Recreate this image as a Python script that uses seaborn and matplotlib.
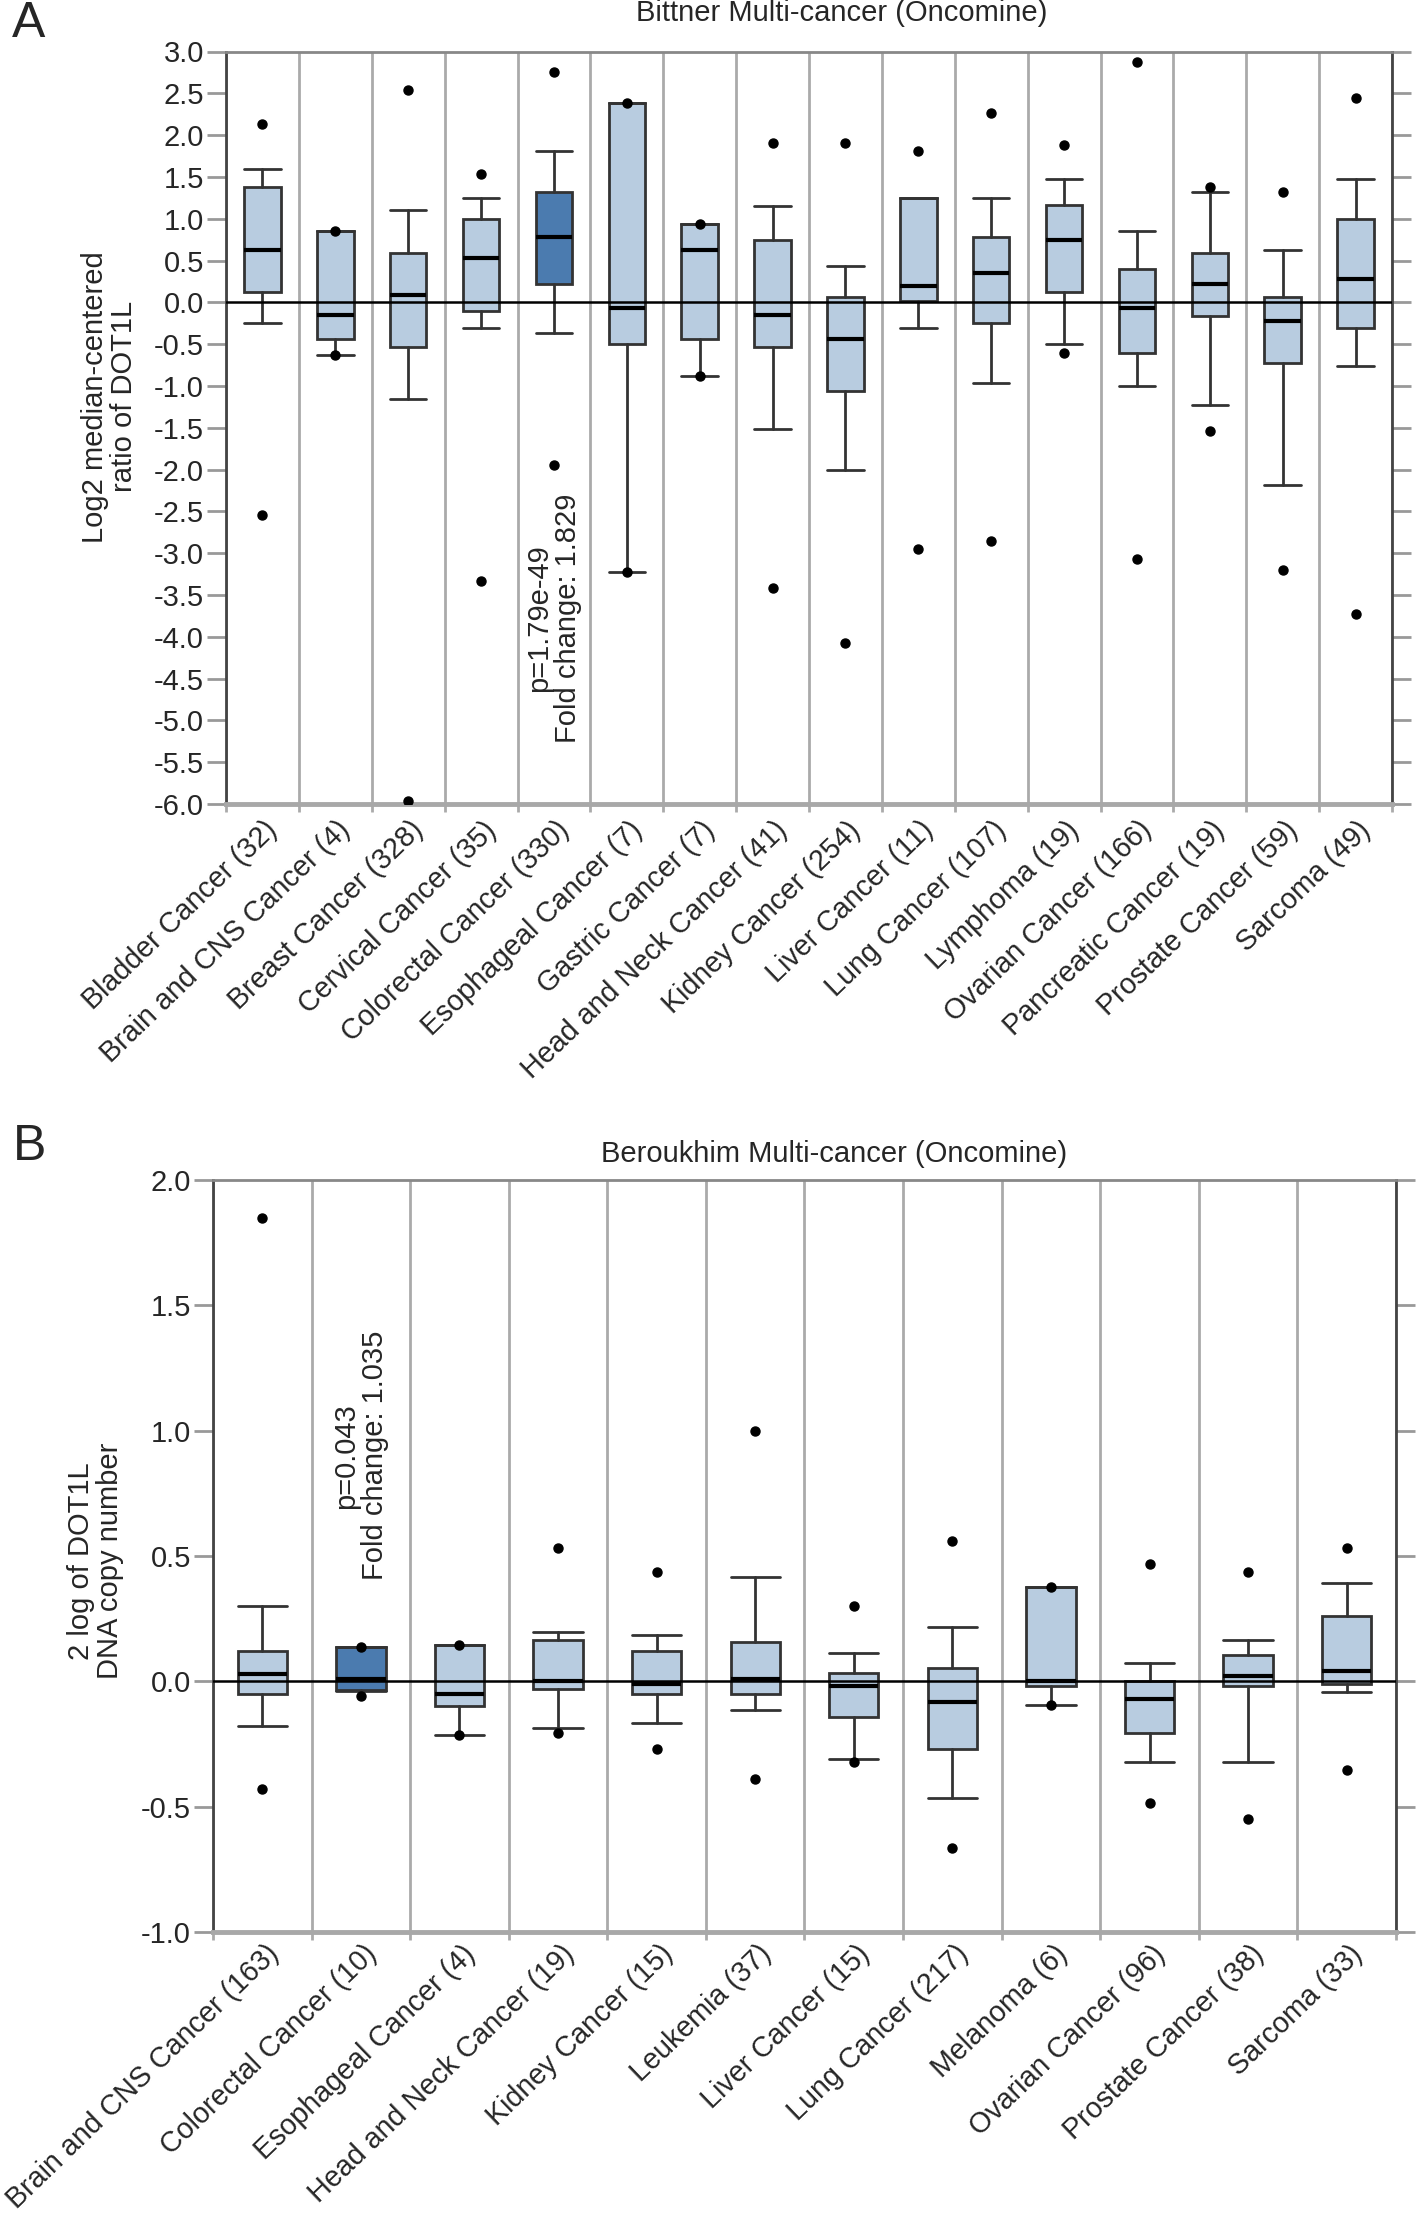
import numpy as np
import matplotlib
matplotlib.use("Agg")
import matplotlib.pyplot as plt
import matplotlib.transforms as mtransforms
import seaborn as sns

# ---------------- Data: panel A (Bittner) ----------------
A_labels = ["Bladder Cancer (32)", "Brain and CNS Cancer (4)", "Breast Cancer (328)",
            "Cervical Cancer (35)", "Colorectal Cancer (330)", "Esophageal Cancer (7)",
            "Gastric Cancer (7)", "Head and Neck Cancer (41)", "Kidney Cancer (254)",
            "Liver Cancer (11)", "Lung Cancer (107)", "Lymphoma (19)",
            "Ovarian Cancer (166)", "Pancreatic Cancer (19)", "Prostate Cancer (59)",
            "Sarcoma (49)"]
A_whishi = [1.59, 0.85, 1.10, 1.25, 1.81, 2.38, 0.94, 1.15, 0.44, 1.25, 1.25, 1.47, 0.85, 1.32, 0.63, 1.47]
A_q3     = [1.38, 0.85, 0.59, 1.00, 1.32, 2.38, 0.94, 0.75, 0.06, 1.25, 0.78, 1.16, 0.40, 0.59, 0.06, 1.00]
A_med    = [0.63, -0.15, 0.09, 0.53, 0.78, -0.07, 0.63, -0.15, -0.44, 0.19, 0.35, 0.75, -0.07, 0.22, -0.22, 0.28]
A_q1     = [0.12, -0.44, -0.53, -0.10, 0.22, -0.50, -0.44, -0.53, -1.06, 0.01, -0.25, 0.12, -0.60, -0.16, -0.72, -0.31]
A_whislo = [-0.25, -0.63, -1.16, -0.31, -0.37, -3.23, -0.88, -1.51, -2.00, -0.31, -0.97, -0.50, -1.00, -1.23, -2.19, -0.76]
A_max    = [2.13, 0.85, 2.54, 1.53, 2.75, 2.38, 0.94, 1.91, 1.91, 1.81, 2.26, 1.88, 2.88, 1.38, 1.32, 2.44]
A_min    = [-2.54, -0.63, -5.96, -3.33, -1.94, -3.23, -0.88, -3.42, -4.08, -2.95, -2.86, -0.60, -3.07, -1.54, -3.20, -3.73]
A_highlight = 4
A_title = "Bittner Multi-cancer (Oncomine)"
A_ylabel = "Log2 median-centered\nratio of DOT1L"
A_note = "p=1.79e-49\nFold change: 1.829"
A_yticks = [3.0 - 0.5 * i for i in range(19)]

# ---------------- Data: panel B (Beroukhim) ----------------
B_labels = ["Brain and CNS Cancer (163)", "Colorectal Cancer (10)", "Esophageal Cancer (4)",
            "Head and Neck Cancer (19)", "Kidney Cancer (15)", "Leukemia (37)",
            "Liver Cancer (15)", "Lung Cancer (217)", "Melanoma (6)",
            "Ovarian Cancer (96)", "Prostate Cancer (38)", "Sarcoma (33)"]
B_whishi = [0.30, 0.135, 0.146, 0.197, 0.186, 0.415, 0.114, 0.218, 0.375, 0.074, 0.165, 0.394]
B_q3     = [0.12, 0.135, 0.146, 0.165, 0.123, 0.157, 0.032, 0.053, 0.375, 0.0, 0.104, 0.26]
B_med    = [0.03, 0.01, -0.05, 0.0, -0.01, 0.01, -0.02, -0.083, 0.0, -0.072, 0.021, 0.042]
B_q1     = [-0.05, -0.035, -0.10, -0.03, -0.05, -0.05, -0.144, -0.27, -0.02, -0.207, -0.02, -0.01]
B_whislo = [-0.18, -0.04, -0.216, -0.186, -0.165, -0.114, -0.31, -0.466, -0.093, -0.32, -0.32, -0.042]
B_max    = [1.85, 0.135, 0.146, 0.53, 0.436, 0.997, 0.30, 0.56, 0.375, 0.468, 0.436, 0.53]
B_min    = [-0.43, -0.06, -0.216, -0.207, -0.27, -0.39, -0.32, -0.665, -0.093, -0.487, -0.55, -0.353]
B_highlight = 1
B_title = "Beroukhim Multi-cancer (Oncomine)"
B_ylabel = "2 log of DOT1L\nDNA copy number"
B_note = "p=0.043\nFold change: 1.035"
B_yticks = [2.0 - 0.5 * i for i in range(7)]

# ---------------- Style ----------------
sns.set_theme(style="white")
plt.rcParams['font.family'] = ['Liberation Sans', 'DejaVu Sans']
plt.rcParams['axes.unicode_minus'] = False

LIGHT = "#b8cce0"
DARK = "#4b7baf"
EDGE = "#333333"
GRID = "#aaaaaa"
FS = 21
XFS = 20.6

fig = plt.figure(figsize=(14.18, 22.19), dpi=100)
W, H = 1418, 2219


def make_axes(l, t, r, b):
    return fig.add_axes([l / W, 1 - b / H, (r - l) / W, (b - t) / H])


def panel(ax, labels, whishi, q3, med, q1, whislo, vmax, vmin, hi, yticks,
          title, title_xy, ylabel, ylabel_x, ylabel_y, note, note_y, lab_dx, lab_dy):
    n = len(labels)
    stats = []
    for i in range(n):
        stats.append(dict(med=med[i], q1=q1[i], q3=q3[i], whislo=whislo[i],
                          whishi=whishi[i], fliers=np.array([vmax[i], vmin[i]])))
    pos = np.arange(n)
    bp = ax.bxp(stats, positions=pos, widths=0.5, capwidths=0.5, patch_artist=True,
                showfliers=True,
                boxprops=dict(edgecolor=EDGE, linewidth=2.0),
                medianprops=dict(color="black", linewidth=3.0),
                whiskerprops=dict(color=EDGE, linewidth=2.0),
                capprops=dict(color=EDGE, linewidth=2.0),
                flierprops=dict(marker="o", markerfacecolor="black", markeredgecolor="black",
                                markersize=6.5, linestyle="none"))
    for i, patch in enumerate(bp["boxes"]):
        patch.set_facecolor(DARK if i == hi else LIGHT)
        patch.set_zorder(2)
    for k in ("medians", "whiskers", "caps", "fliers"):
        for a in bp[k]:
            a.set_zorder(3)
    ax.axhline(0, color="black", linewidth=1.8, zorder=4)

    ax.set_xlim(-0.5, n - 0.5)
    ax.set_ylim(min(yticks), max(yticks))
    ax.set_yticks(yticks)
    ax.set_yticklabels([f"{v:.1f}" for v in yticks], fontsize=FS)
    ax.set_xticks(pos)
    ax.set_xticks(np.arange(n + 1) - 0.5, minor=True)
    ax.tick_params(axis="x", which="major", length=0, pad=0)
    ax.tick_params(axis="x", which="minor", length=6, width=2, color=GRID, bottom=True)
    ax.tick_params(axis="y", which="major", length=14, width=2, color="#999999",
                   left=True, right=True, pad=2, labelsize=FS, direction="out")
    ax.set_xticklabels(labels, rotation=44, ha="right", va="center",
                       rotation_mode="anchor", fontsize=XFS)
    # shift the rotated labels (after tick_params, which would reset transforms)
    offset = mtransforms.ScaledTranslation(lab_dx / 100, -lab_dy / 100, fig.dpi_scale_trans)
    for lab in ax.get_xticklabels():
        lab.set_transform(lab.get_transform() + offset)
    ax.grid(False)
    ax.grid(True, axis="x", which="minor", color=GRID, linewidth=2)
    for s in ("left", "right"):
        ax.spines[s].set_color("#444444")
        ax.spines[s].set_linewidth(2)
    ax.spines["top"].set_color("#888888")
    ax.spines["top"].set_linewidth(2)
    ax.spines["bottom"].set_color("#a8a8a8")
    ax.spines["bottom"].set_linewidth(3.5)

    ax.text(title_xy[0], title_xy[1], title, transform=ax.transAxes, ha="center",
            va="center", fontsize=FS)
    ax.set_ylabel(ylabel, fontsize=FS, linespacing=1.05)
    ax.yaxis.set_label_coords(ylabel_x, ylabel_y)
    ax.text(hi, note_y, note, rotation=90, ha="center", va="center",
            multialignment="center", fontsize=FS, linespacing=1.05, zorder=5)


axA = make_axes(226, 51.5, 1392, 804)
panel(axA, A_labels, A_whishi, A_q3, A_med, A_q1, A_whislo, A_max, A_min, A_highlight,
      A_yticks, A_title, (0.0283 + 0.5, 1.0505), A_ylabel, -0.0755, 0.541, A_note, -3.78,
      11, 22)

axB = make_axes(213, 1180, 1396, 1932)
panel(axB, B_labels, B_whishi, B_q3, B_med, B_q1, B_whislo, B_max, B_min, B_highlight,
      B_yticks, B_title, (0.0254 + 0.5, 1.0346), B_ylabel, -0.075, 0.493, B_note, 0.9,
      12, 18)

fig.text(29 / W, 1 - 24 / H, "A", fontsize=36, ha="center", va="center")
fig.text(30 / W, 1 - 1147 / H, "B", fontsize=36, ha="center", va="center")

fig.savefig("out.png", dpi=100)
